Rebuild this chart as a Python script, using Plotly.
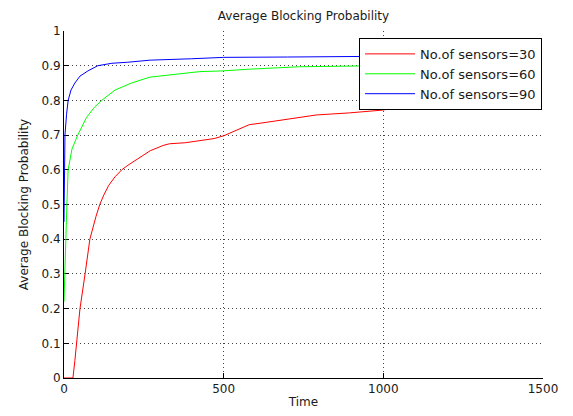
import plotly.graph_objects as go

# Series 1: No. of sensors = 30
t30 = [0, 28, 34, 40, 50, 66, 81, 100, 112, 125, 140, 160, 181, 200, 220, 240, 270, 310, 330,
       380, 430, 470, 500, 540, 580, 620, 684, 790, 894, 997, 1050, 1100, 1200, 1300, 1400]
p30 = [0, 0, 0.05, 0.1, 0.2, 0.3, 0.4, 0.465, 0.5, 0.528, 0.555, 0.58, 0.6, 0.613, 0.625, 0.637,
       0.655, 0.67, 0.675, 0.678, 0.685, 0.69, 0.698, 0.715, 0.73, 0.735, 0.744, 0.758, 0.764,
       0.772, 0.78, 0.785, 0.79, 0.795, 0.80]

# Series 2: No. of sensors = 60
t60 = [0, 2, 6, 9, 13, 25, 43, 70, 95, 118, 160, 211, 269, 350, 425, 497, 581, 737, 894, 1000, 1200, 1400]
p60 = [0.22, 0.3, 0.4, 0.5, 0.6, 0.66, 0.7, 0.75, 0.78, 0.8, 0.83, 0.85, 0.867, 0.875, 0.883, 0.885,
       0.89, 0.897, 0.9, 0.9, 0.902, 0.905]

# Series 3: No. of sensors = 90
t90 = [0, 1, 3, 8, 13, 22, 34, 50, 75, 106, 150, 200, 270, 400, 500, 700, 900, 1100, 1400]
p90 = [0.45, 0.6, 0.7, 0.76, 0.8, 0.83, 0.85, 0.87, 0.885, 0.9, 0.907, 0.91, 0.916, 0.92, 0.924,
       0.925, 0.927, 0.928, 0.93]

names = ["No.of sensors=30", "No.of sensors=60", "No.of sensors=90"]
colors = ["#ff0000", "#00ff00", "#0000ff"]

xticks = [0, 500, 1000, 1500]
yticks = [0, 0.1, 0.2, 0.3, 0.4, 0.5, 0.6, 0.7, 0.8, 0.9, 1]
ylabels = ["0", "0.1", "0.2", "0.3", "0.4", "0.5", "0.6", "0.7", "0.8", "0.9", "1"]

font = "DejaVu Sans, Verdana, sans-serif"
txt = "#1a1a1a"

fig = go.Figure()
for t, p, n, c in zip([t30, t60, t90], [p30, p60, p90], names, colors):
    fig.add_trace(go.Scatter(x=t, y=p, mode="lines", name=n,
                             line=dict(color=c, width=1)))

axis_common = dict(ticks="inside", ticklen=5, tickcolor="black", showline=True,
                   linecolor="black", linewidth=1, showgrid=True, gridcolor="#444444",
                   griddash="1px,3px", gridwidth=1, zeroline=False, automargin=False,
                   layer="below traces", tickfont=dict(size=12, color=txt))

fig.update_layout(
    width=573, height=416,
    margin=dict(l=64, r=30, t=31, b=38),
    paper_bgcolor="white", plot_bgcolor="white",
    font=dict(family=font, size=12, color=txt),
    title=dict(text="Average Blocking Probability", x=(64 + 543) / 2 / 573, xanchor="center",
               y=1 - 16 / 416, yanchor="middle", font=dict(size=12, color=txt)),
    showlegend=True,
    legend=dict(x=0.998, y=0.98, xanchor="right", yanchor="top",
                bgcolor="white", bordercolor="black", borderwidth=1,
                font=dict(size=13, color=txt), tracegroupgap=0, itemwidth=50),
)
fig.update_xaxes(range=[0, 1500], tickvals=xticks, **axis_common,
                 title=dict(text="Time", standoff=2, font=dict(size=12, color=txt)))
fig.update_yaxes(range=[0, 1], tickvals=yticks, ticktext=ylabels, **axis_common,
                 title=dict(text="Average Blocking Probability", standoff=10,
                            font=dict(size=12, color=txt)))

fig.write_html("out.html")
